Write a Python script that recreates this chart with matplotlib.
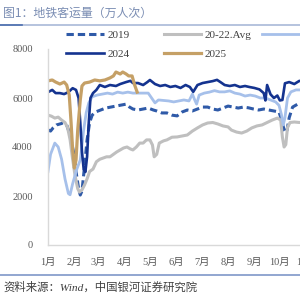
import matplotlib.pyplot as plt
from matplotlib.lines import Line2D

plt.rcParams['font.family'] = ['Liberation Serif', 'Noto Sans CJK SC']

# x = day of year, y = 万人次
month_days = [0, 31, 59, 90, 120, 151, 181, 212, 243, 273, 304, 334]
month_labels = ['1月', '2月', '3月', '4月', '5月', '6月', '7月', '8月', '9月', '10月', '11月', '12月']
y_ticks = [0, 2000, 4000, 6000, 8000]

d2019 = [0, 3, 6, 10, 14, 18, 22, 26, 30, 33, 36, 38, 40, 43, 46, 49, 52, 56, 62, 68, 74, 80, 86, 92,
         96, 100, 106, 112, 118, 124, 128, 134, 140, 146, 152, 158, 164, 170, 176, 182, 188, 194, 200,
         206, 212, 218, 224, 230, 236, 242, 248, 254, 260, 266, 272, 275, 278, 281, 284, 288, 294, 300, 306, 312]
v2019 = [4700, 4650, 4780, 4900, 4940, 4980, 4900, 4500, 3800, 3000, 2300, 2040, 2200, 3200, 4290, 5000,
         5300, 5430, 5510, 5590, 5630, 5670, 5710, 5750, 5630, 5550, 5510, 5550, 5590, 5510, 5470, 5390,
         5390, 5300, 5270, 5430, 5510, 5470, 5550, 5630, 5630, 5550, 5510, 5590, 5670, 5630, 5590, 5630,
         5600, 5550, 5510, 5550, 5510, 5470, 5430, 5100, 4700, 4600, 5200, 5630, 5750, 5800, 5800, 5820]

d_avg = [0, 4, 8, 12, 16, 20, 23, 26, 29, 32, 35, 37, 40, 43, 46, 49, 53, 57, 61, 65, 69, 73, 77, 81, 85,
         89, 93, 97, 100, 104, 108, 112, 116, 120, 123, 125, 128, 131, 136, 140, 146, 152, 158, 164, 170,
         176, 182, 188, 194, 200, 206, 212, 216, 222, 228, 234, 240, 246, 252, 258, 264, 270, 274, 276,
         278, 280, 282, 285, 290, 296, 302, 312]
v_avg = [5300, 5260, 5180, 5220, 5100, 5000, 4800, 4300, 3500, 2800, 2300, 2160, 2250, 2450, 2700, 3000,
         3100, 3400, 3500, 3550, 3600, 3600, 3700, 3800, 3880, 3960, 4000, 3920, 3880, 4000, 4160, 4160,
         4290, 4290, 4080, 3600, 3700, 4160, 4250, 4290, 4400, 4410, 4450, 4490, 4650, 4780, 4900, 4980,
         5000, 4940, 4860, 4820, 4690, 4610, 4570, 4650, 4780, 4860, 4900, 5000, 5100, 5180, 5100, 4400,
         4000, 4100, 4800, 5000, 5020, 5000, 5020, 5000]

d2023 = [0, 3, 8, 12, 16, 20, 24, 26, 29, 34, 38, 42, 45, 48, 52, 58, 64, 70, 76, 82, 88, 94, 100, 106,
         112, 118, 122, 126, 130, 136, 142, 148, 154, 160, 166, 170, 173, 175, 178, 184, 190, 196, 202,
         208, 214, 220, 226, 232, 238, 244, 250, 256, 262, 268, 272, 275, 277, 279, 282, 286, 292, 298, 304, 312]
v2023 = [3000, 3700, 4160, 4000, 3500, 2700, 2100, 2050, 2500, 3100, 3470, 4700, 5400, 5800, 6050, 6120,
         6160, 6200, 6160, 6240, 6200, 6240, 6200, 6200, 6200, 6200, 6000, 5800, 5920, 5900, 5880, 5840,
         5880, 5920, 5880, 6160, 5900, 5750, 6120, 6200, 6240, 6300, 6250, 6250, 6290, 6200, 6160, 6080,
         6120, 6080, 6000, 6000, 5920, 5840, 5700, 5300, 4900, 5200, 6000, 6250, 6330, 6330, 6370, 6350]

d2024 = [0, 5, 9, 14, 19, 24, 29, 33, 36, 38, 40, 42, 44, 46, 48, 50, 53, 57, 61, 67, 73, 80, 85, 92, 97,
         100, 106, 112, 117, 120, 126, 132, 138, 144, 150, 156, 162, 167, 171, 176, 182, 188, 194, 199,
         203, 208, 214, 220, 226, 232, 237, 243, 249, 254, 256, 258, 262, 266, 270, 273, 276, 279, 284,
         290, 296, 302, 312]
v2024 = [6240, 6330, 6200, 6200, 6160, 6240, 6400, 6330, 6000, 5000, 3800, 3100, 2980, 3600, 5000, 6000,
         6200, 6330, 6530, 6450, 6530, 6490, 6570, 6650, 6700, 6610, 6610, 6530, 6650, 6735, 6570, 6490,
         6530, 6450, 6490, 6410, 6530, 6450, 6250, 6530, 6610, 6650, 6690, 6740, 6650, 6530, 6490, 6530,
         6450, 6490, 6450, 6410, 6350, 6200, 5900, 6530, 6150, 6000, 6100, 5900, 5920, 6600, 6650, 6570,
         6700, 6650, 6680]

d2025 = [0, 5, 9, 14, 19, 22, 25, 27, 29, 31, 33, 35, 38, 40, 43, 49, 55, 61, 67, 73, 77, 80, 85, 88, 92,
         95, 99, 102, 105]
v2025 = [6700, 6735, 6650, 6570, 6650, 6530, 6120, 5100, 3900, 3140, 3470, 4700, 5920, 6490, 6610, 6650,
         6735, 6700, 6735, 6820, 6900, 7060, 6980, 7060, 6980, 6900, 6900, 6530, 6240]

fig = plt.figure(figsize=(3, 3), dpi=100)
ax = fig.add_axes([48/300, 55/300, 310/300, 196/300])

l2019, = ax.plot(d2019, v2019, color='#2f5aa8', lw=2.2, ls=(0, (2.4, 1.3)), label='2019')
lavg, = ax.plot(d_avg, v_avg, color='#bfbfbf', lw=2.2, label='20-22.Avg')
l2023, = ax.plot(d2023, v2023, color='#a6c0ea', lw=2.0, label='2023')
l2024, = ax.plot(d2024, v2024, color='#14338f', lw=1.9, label='2024')
l2025, = ax.plot(d2025, v2025, color='#c5a066', lw=2.3, label='2025')

ax.set_xlim(0, 365)
ax.set_ylim(0, 8000)
ax.set_xticks(month_days)
ax.set_xticklabels(month_labels)
ax.set_yticks(y_ticks)
ax.tick_params(axis='both', length=0, colors='#595959', labelsize=7.5)
ax.tick_params(axis='x', pad=9)
ax.tick_params(axis='y', pad=11)
for s in ['top', 'right']:
    ax.spines[s].set_visible(False)
for s in ['left', 'bottom']:
    ax.spines[s].set_color('#d9d9d9')
    ax.spines[s].set_linewidth(1.0)

leg_kw = dict(frameon=False, fontsize=8, borderpad=0, borderaxespad=0, handlelength=3.4,
              handletextpad=0.3, labelspacing=0.85, bbox_transform=fig.transFigure, loc='upper left',
              labelcolor='#404040')
fig.legend(handles=[l2019, l2024, lavg, l2025], ncol=2, columnspacing=3.1,
           bbox_to_anchor=(66/300, 1 - 30/300), **leg_kw)
fig.legend(handles=[l2023], bbox_to_anchor=(262/300, 1 - 30/300), **leg_kw)

fig.text(3/300, 1 - 13/300, '图1：地铁客运量（万人次）', ha='left', va='center', fontsize=8.6,
         color='#7a8db3', family='Noto Sans CJK SC')
fig.add_artist(Line2D([0, 1], [1 - 25/300] * 2, color='#a9b9d8', lw=1.2, transform=fig.transFigure))
fig.add_artist(Line2D([0, 22/300], [1 - 25/300] * 2, color='#4d6fae', lw=1.2, transform=fig.transFigure))
fig.add_artist(Line2D([0, 1], [25/300] * 2, color='#7f97c8', lw=1.2, transform=fig.transFigure))
fig.text(3/300, 13/300, '资料来源：Wind，中国银河证券研究院', ha='left', va='center', fontsize=8.2,
         style='italic', color='#404040')

fig.savefig('out.png', dpi=100)
